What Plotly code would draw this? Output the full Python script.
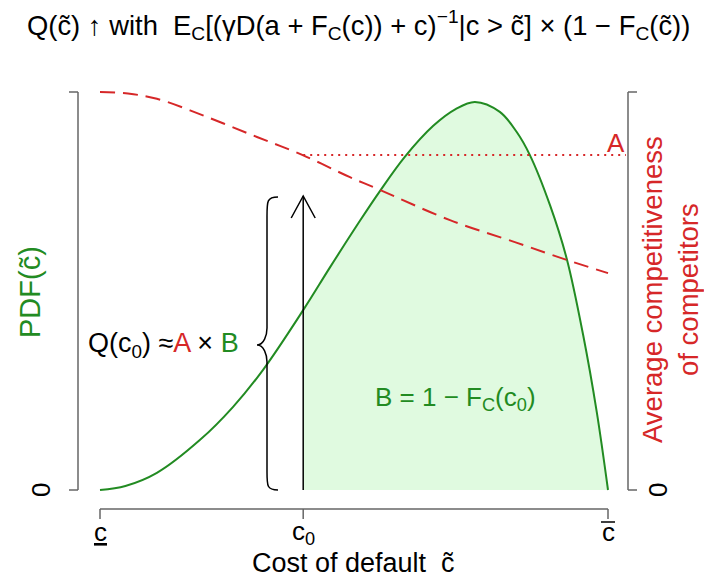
import plotly.graph_objects as go

# ---------------- data (x: 0 = c_low, 1 = c_high) ----------------
pdf_x = [0.0, 0.05, 0.112, 0.197, 0.262, 0.321, 0.400, 0.453, 0.512, 0.551, 0.600,
         0.656, 0.700, 0.738, 0.787, 0.820, 0.846, 0.886, 0.919, 0.951, 0.978, 1.0]
pdf_y = [0.0, 0.010, 0.043, 0.126, 0.209, 0.302, 0.452, 0.560, 0.677, 0.751, 0.837,
         0.915, 0.957, 0.975, 0.950, 0.900, 0.842, 0.715, 0.580, 0.390, 0.195, 0.0]

comp_x = [0.0, 0.055, 0.112, 0.211, 0.309, 0.398, 0.492, 0.551, 0.689, 0.821, 0.919, 1.0]
comp_y = [1.0, 0.996, 0.983, 0.937, 0.887, 0.842, 0.786, 0.754, 0.678, 0.621, 0.578, 0.545]

c0 = 0.400
A_level = 0.842
x_tick_vals = [0.0, c0, 1.0]
x_tick_text = ["<u>c</u>", "c<sub>0</sub>", "c"]

GREEN = "#228B22"
RED = "#D62728"
FILL = "#E0FAE0"
AXIS = "#666666"
FONT = "Liberation Sans, Arial, sans-serif"

# pixel helpers for layout (plot area: x 60..660, y 80..530)
L, R, T, B = 60, 44, 80, 53
W, H = 704, 583
def dx(px):
    return (px - 100) / 508.0
def dy(py):
    return (490 - py) / 398.0
def paper_x(px):
    return (px - L) / (W - L - R)
def paper_y(py):
    return (H - B - py) / (H - T - B)

fig = go.Figure()

# shaded area B
sx = [x for x in pdf_x if x >= c0]
sy = [y for x, y in zip(pdf_x, pdf_y) if x >= c0]
fig.add_trace(go.Scatter(x=sx, y=sy, mode="lines", line=dict(width=0, color=FILL, shape="spline"),
                         fill="tozeroy", fillcolor=FILL, hoverinfo="skip", showlegend=False))
# PDF curve
fig.add_trace(go.Scatter(x=pdf_x, y=pdf_y, mode="lines",
                         line=dict(color=GREEN, width=2, shape="spline"), showlegend=False))
# average competitiveness (dashed)
fig.add_trace(go.Scatter(x=comp_x, y=comp_y, mode="lines",
                         line=dict(color=RED, width=2, dash="15px,8px", shape="spline"), showlegend=False))
# level A (dotted)
fig.add_trace(go.Scatter(x=[c0, dx(626)], y=[A_level, A_level], mode="lines",
                         line=dict(color=RED, width=2, dash="2px,5px"), showlegend=False))

shapes = []
# axes
xa_y = dy(509)
shapes.append(dict(type="line", x0=0, x1=1, y0=xa_y, y1=xa_y, line=dict(color=AXIS, width=1.5)))
for xv in x_tick_vals:
    shapes.append(dict(type="line", x0=xv, x1=xv, y0=xa_y, y1=dy(519), line=dict(color=AXIS, width=1.5)))
lx = dx(78)
shapes.append(dict(type="line", x0=lx, x1=lx, y0=0, y1=1, line=dict(color=AXIS, width=1.5)))
for yv in [0, 1]:
    shapes.append(dict(type="line", x0=lx, x1=dx(69), y0=yv, y1=yv, line=dict(color=AXIS, width=1.5)))
rx = dx(628)
shapes.append(dict(type="line", x0=rx, x1=rx, y0=0, y1=1, line=dict(color=AXIS, width=1.5)))
for yv in [0, 1]:
    shapes.append(dict(type="line", x0=rx, x1=dx(637), y0=yv, y1=yv, line=dict(color=AXIS, width=1.5)))
# overline on the upper-bound tick label
shapes.append(dict(type="line", xref="paper", yref="paper",
                   x0=paper_x(601), x1=paper_x(615), y0=paper_y(522), y1=paper_y(522),
                   line=dict(color="black", width=1.5)))

# arrow at c0
top = dy(196)
shapes.append(dict(type="line", x0=c0, x1=c0, y0=0, y1=top, line=dict(color="black", width=1.5)))
shapes.append(dict(type="path",
                   path=f"M {c0 - 12/508},{top - 22/398} L {c0},{top} L {c0 + 12/508},{top - 22/398}",
                   line=dict(color="black", width=1.5)))
# brace
bx0, bx1, bx2 = dx(278), dx(267), dx(257)
by = [dy(197), dy(216), dy(328), dy(345), dy(362), dy(472), dy(490)]
brace = (f"M {bx0},{by[0]} C {bx1},{by[0]} {bx1},{by[0]-0.01} {bx1},{by[1]} "
         f"L {bx1},{by[2]} C {bx1},{by[3]+0.025} {bx1-0.006},{by[3]} {bx2},{by[3]} "
         f"C {bx1-0.006},{by[3]} {bx1},{by[3]-0.025} {bx1},{by[4]} "
         f"L {bx1},{by[5]} C {bx1},{by[6]+0.01} {bx1},{by[6]} {bx0},{by[6]}")
shapes.append(dict(type="path", path=brace, line=dict(color="black", width=1.5)))

ann = []
def txt(text, x, y, size=26, color="black", xref="x", yref="y", angle=0,
        xanchor="center", yanchor="middle"):
    ann.append(dict(text=text, x=x, y=y, xref=xref, yref=yref, showarrow=False, textangle=angle,
                    font=dict(size=size, color=color, family=FONT), xanchor=xanchor, yanchor=yanchor))

# title
txt("Q(c\u0303) \u2191 with  E<sub>C</sub>[(\u03b3D(a + F<sub>C</sub>(c)) + c)<sup>\u22121</sup>|c > c\u0303] \u00d7 (1 \u2212 F<sub>C</sub>(c\u0303))",
    paper_x(358), paper_y(25), size=27.4, xref="paper", yref="paper")
# x tick labels
for xv, tt in zip(x_tick_vals, x_tick_text):
    txt(tt, paper_x(100 + 508 * xv), paper_y(532), size=26, xref="paper", yref="paper")
txt("Cost of default  c\u0303", paper_x(353), paper_y(563), size=27, xref="paper", yref="paper")
# y tick labels (rotated)
txt("0", paper_x(41), paper_y(490), size=26, xref="paper", yref="paper", angle=-90)
txt("0", paper_x(658), paper_y(490), size=26, xref="paper", yref="paper", angle=-90)
# axis titles
txt("PDF(c\u0303)", paper_x(30), paper_y(292), size=29, color=GREEN,
    xref="paper", yref="paper", angle=-90)
txt("Average competitiveness<br>of competitors", paper_x(670), paper_y(290), size=27.5, color=RED,
    xref="paper", yref="paper", angle=-90)
# in-plot labels
txt("Q(c<sub>0</sub>) \u2248<span style='color:%s'>A</span> \u00d7 <span style='color:%s'>B</span>" % (RED, GREEN),
    dx(241), dy(345), size=27, xanchor="right")
txt("B = 1 \u2212 F<sub>C</sub>(c<sub>0</sub>)", dx(455), dy(398), size=26, color=GREEN)
txt("A", dx(616), dy(143), size=26, color=RED)

fig.update_layout(
    width=W, height=H, margin=dict(l=L, r=R, t=T, b=B),
    paper_bgcolor="white", plot_bgcolor="white",
    xaxis=dict(range=[dx(L), dx(W - R)], visible=False, fixedrange=True),
    yaxis=dict(range=[dy(H - B), dy(T)], visible=False, fixedrange=True),
    shapes=shapes, annotations=ann, showlegend=False,
)
fig.write_html("out.html", config={"displayModeBar": False},
               post_script="document.body.style.margin='0px';document.body.style.overflow='hidden';")
